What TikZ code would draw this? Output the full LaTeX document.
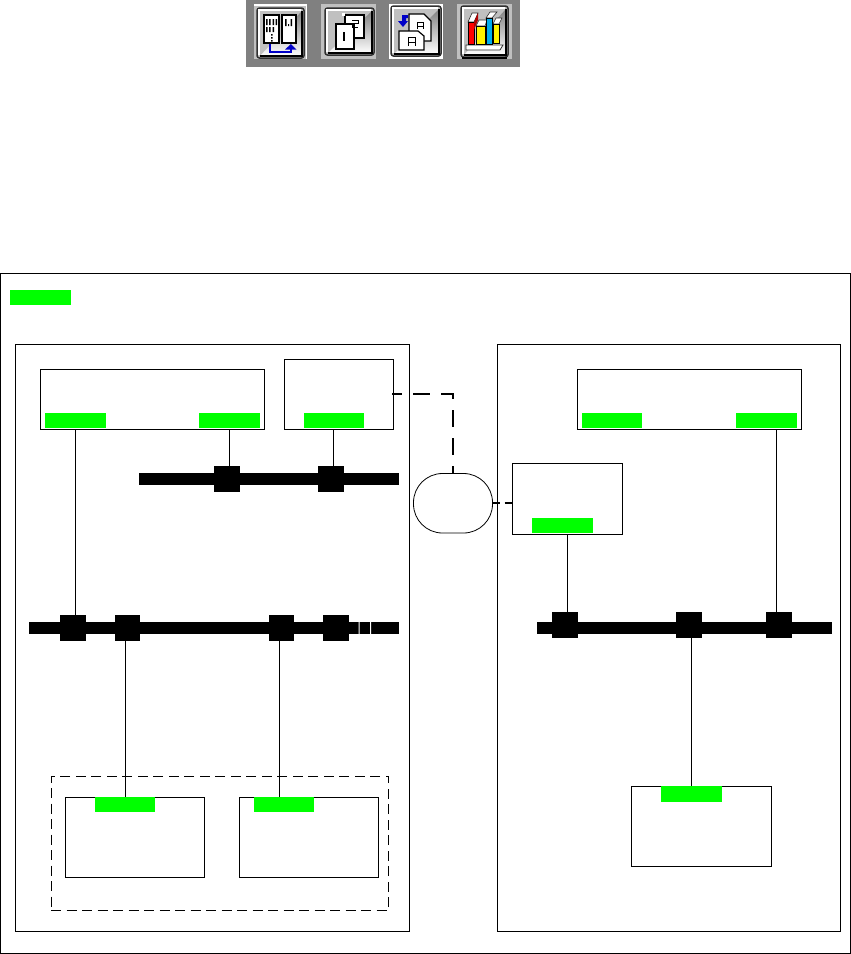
\documentclass[tikz,border=0pt]{standalone}
\definecolor{tagG}{HTML}{00FF00}
\definecolor{btn}{HTML}{C0C0C0}
\definecolor{barG}{HTML}{808080}
\definecolor{dk}{HTML}{303030}
\definecolor{shade}{HTML}{808080}
\definecolor{bluearrow}{HTML}{0000C8}
\tikzset{
  px/.style={inner sep=0pt,outer sep=0pt,line width=1pt},
  framebox/.style={px,draw=black,fill=white},
  tag/.style={px,fill=tagG},
  bus/.style={px,fill=black},
  tap/.style={px,fill=black},
  wire/.style={line width=1pt,draw=black},
  dashlink/.style={line width=1.8pt,draw=black,dash pattern=on 17pt off 11pt,dash phase=7pt},
  dashshort/.style={line width=1.8pt,draw=black,dash pattern=on 7pt off 5pt},
  groupbox/.style={px,draw=black,dash pattern=on 10pt off 5.5pt},
  cloud/.style={px,line width=.8pt,draw=black,fill=white,rounded corners=29pt},
  page/.style={draw=black,line width=1.2pt,fill=white},
  bookcover/.style={draw=black,line width=.7pt},
  booktop/.style={draw=dk,fill=white,line width=.6pt},
}
% name, style, x1,y1,x2,y2 in reference pixels
\newcommand{\bx}[6]{\node[#2,minimum width={(#5-#3)*1pt},minimum height={(#6-#4)*1pt}] (#1) at ({(#3+#5)/2},{(#4+#6)/2}) {};}
\newcommand{\rct}[5]{\fill[#1] (#2,#3) rectangle (#4,#5);}
% bevelled toolbar button
\newcommand{\btnshape}[4]{%
  \draw[draw=dk,line width=1.5pt,fill=btn,rounded corners=2.5pt] (#1,#2) rectangle (#3,#4);
  \draw[white,line width=1.2pt] ({#1+2},{#4-3}) -- ({#1+2},{#2+2}) -- ({#3-3},{#2+2});
  \draw[shade,line width=1.2pt] ({#1+3},{#4-2}) -- ({#3-2},{#4-2}) -- ({#3-2},{#2+3});
}
\begin{document}
\begin{tikzpicture}[x=1pt,y=-1pt]
\useasboundingbox (0,0) rectangle (851,954);
\fill[white] (0,0) rectangle (851,954);

% toolbar
\rct{barG}{246}{0}{520}{67}
% button 1
\rct{white}{254}{4}{307}{59}
\rct{btn}{254}{6}{306}{59}
\btnshape{257}{8}{304}{58}
\draw[page] (264,15) rectangle (279,43);
\draw[page] (282,15) rectangle (296,43);
\fill[black] (266,19) rectangle (267.5,25) (269,19) rectangle (270.5,25) (272.5,19) rectangle (274,25) (275.5,19) rectangle (277,25);
\fill[black] (266,27) rectangle (267.5,32) (269,27) rectangle (270.5,32) (272.5,27) rectangle (274,32);
\fill[black] (271,34) rectangle (272.5,35.5) (271,37) rectangle (272.5,38.5) (271,40) rectangle (272.5,41.5);
\fill[black] (285,19) rectangle (286.5,26) (288,24) rectangle (289,26) (290.5,19) rectangle (292,26);
\draw[bluearrow,line width=1.5pt] (270,44) -- (270,52) -- (291,52) -- (291,48);
\fill[bluearrow] (285,49.5) -- (291,44) -- (296.5,49.5) -- cycle;
% button 2
\rct{btn}{321}{4}{376}{59}
\btnshape{325}{8}{374}{55}
\draw[page] (345,15) rectangle (364,38);
\fill[white] (342,13) rectangle (345,16);
\draw[page] (336,24) rectangle (354,49);
\fill[black] (343,32) rectangle (345,41);
\draw[black,line width=1pt] (352,20) -- (358,20) -- (358,23) -- (352,23) -- (352,27) -- (358,27);
% button 3
\rct{white}{389}{4}{443}{59}
\btnshape{391}{6}{441}{56}
\draw[page] (409,14) -- (424,14) -- (431,21) -- (431,41) -- (409,41) -- cycle;
\draw[page] (399,31) -- (418,31) -- (424,36) -- (424,50) -- (399,50) -- cycle;
\draw[black,line width=1pt] (408,46) -- (408,37) -- (415,37) -- (415,46) (408,42) -- (415,42);
\draw[black,line width=1pt] (417,29) -- (417,22) -- (423,22) -- (423,29) (417,26) -- (423,26);
\fill[bluearrow] (402,15) rectangle (406,23) (402,15) rectangle (408,18);
\fill[bluearrow] (398,21) -- (408,21) -- (403,27) -- cycle;
% button 4
\rct{btn}{457}{4}{512}{59}
\btnshape{461}{6}{508}{57}
\fill[black] (462,57) rectangle (507,59);
\draw[draw=dk,fill=white,line width=.8pt] (466,45) -- (503,45) -- (500,50) -- (466,50) -- cycle;
\draw[booktop] (468,22) -- (472,13) -- (478,13) -- (474,22) -- cycle;
\draw[booktop] (476,26) -- (479,20) -- (487,20) -- (485,26) -- cycle;
\draw[booktop] (486,18) -- (490,12) -- (497,12) -- (492,18) -- cycle;
\draw[booktop] (493,24) -- (496,18) -- (502,18) -- (499,24) -- cycle;
\draw[bookcover,fill=red] (468,22) rectangle (474,44);
\fill[red!70!black] (474,22) -- (478,13) -- (478,20) -- (474,30) -- cycle;
\draw[bookcover,fill=yellow] (476,26) rectangle (485,44);
\draw[bookcover,fill=cyan] (486,18) rectangle (492,44);
\draw[bookcover,fill=yellow] (493,24) rectangle (499,43);

% frames
\bx{outer}{framebox}{0.5}{273.5}{850.5}{953}
\bx{toptag}{tag}{10}{290}{71}{305}
\bx{left}{framebox}{15.5}{344.5}{409}{931}
\bx{right}{framebox}{497.5}{344.5}{840.5}{931}

% dashed group (bottom left)
\bx{group}{groupbox}{51}{776}{388.5}{910.5}

% left area boxes
\bx{la}{framebox}{40.5}{369.5}{264.5}{429}
\bx{lat1}{tag}{45}{413}{106}{428}
\bx{lat2}{tag}{199}{413}{260}{428}
\bx{lb}{framebox}{284.5}{359.5}{393.5}{429}
\bx{lbt}{tag}{304}{413}{364}{428}

% left buses
\bx{bus1}{bus}{139}{473}{399}{485}
\bx{t1a}{tap}{214}{466}{240}{492}
\bx{t1b}{tap}{318}{466}{344}{492}
\bx{bus2}{bus}{29}{622}{399}{634}
\bx{t2a}{tap}{60}{615}{86}{641}
\bx{t2b}{tap}{115}{615}{140}{641}
\bx{t2c}{tap}{269}{615}{294}{641}
\bx{t2d}{tap}{323}{615}{349}{641}
\fill[white] (358.5,622) rectangle (359.6,634) (370,622) rectangle (371,634);

% bottom left boxes
\bx{lc}{framebox}{65.5}{797}{204.5}{877}
\bx{lct}{tag}{95}{797}{155}{812}
\bx{ld}{framebox}{239.5}{797}{378.5}{877}
\bx{ldt}{tag}{254}{797}{314}{812}

% right area
\bx{ra}{framebox}{577.5}{369.5}{801}{429}
\bx{rat1}{tag}{582}{413}{642}{428}
\bx{rat2}{tag}{736}{413}{797}{428}
\bx{rb}{framebox}{512.5}{463.5}{622.5}{534}
\bx{rbt}{tag}{532}{518}{593}{533}
\bx{bus3}{bus}{537}{622}{832}{634}
\bx{t3a}{tap}{552}{612}{578}{638}
\bx{t3b}{tap}{676}{612}{702}{638}
\bx{t3c}{tap}{766}{612}{792}{638}
\bx{rc}{framebox}{631.5}{786.5}{771.5}{866}
\bx{rct}{tag}{661}{786}{722}{802}

% oval
\bx{oval}{cloud}{413.5}{473.5}{492.5}{533}

% connectors
\coordinate (w1) at (229.5,429);
\coordinate (w2) at (333.5,429);
\coordinate (w3) at (75.5,429);
\coordinate (w4) at (125.5,641);
\coordinate (w5) at (279.5,641);
\coordinate (w6) at (567.5,534);
\coordinate (w7) at (776.5,429);
\coordinate (w8) at (691.5,638);
\draw[wire] (w1) -- (w1 |- t1a.north);
\draw[wire] (w2) -- (w2 |- t1b.north);
\draw[wire] (w3) -- (w3 |- t2a.north);
\draw[wire] (w4) -- (w4 |- lct.north);
\draw[wire] (w5) -- (w5 |- ldt.north);
\draw[wire] (w6) -- (w6 |- t3a.north);
\draw[wire] (w7) -- (w7 |- t3c.north);
\draw[wire] (w8) -- (w8 |- rct.north);

\coordinate (d1) at (392,394);
\draw[dashlink] (d1) -- (d1 -| oval.north) -- (oval.north);
\draw[dashshort] (oval.east) -- ([xshift=1.5pt]rb.west |- oval.east);
\end{tikzpicture}
\end{document}
